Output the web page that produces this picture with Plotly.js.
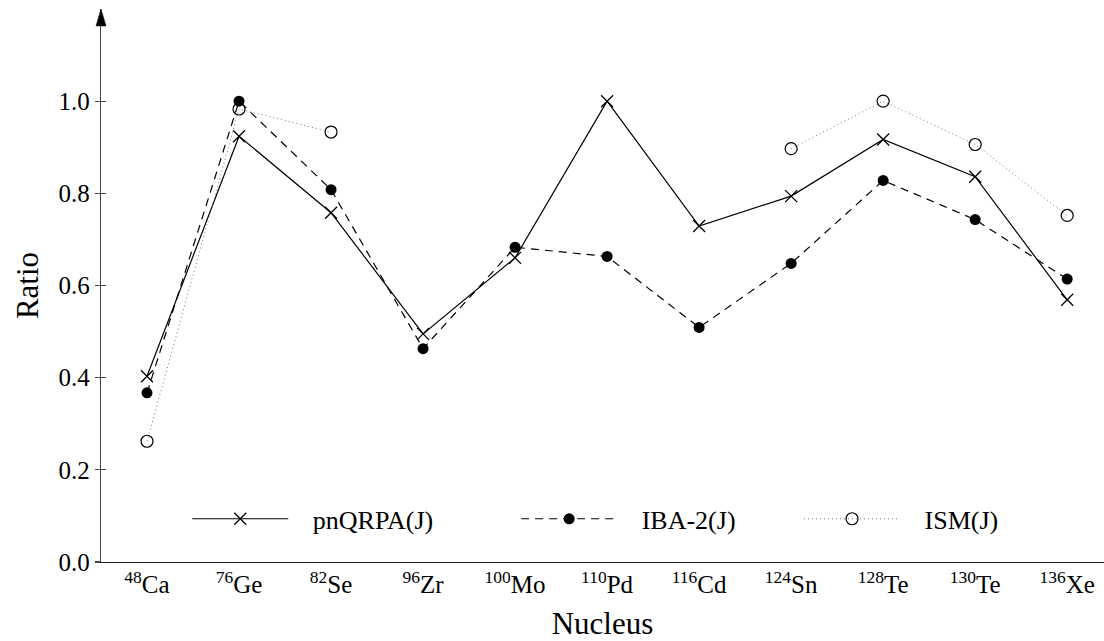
<!DOCTYPE html>
<html>
<head>
<meta charset="utf-8">
<script src="https://cdn.plot.ly/plotly-3.0.1.min.js"></script>
<style>
  html, body { margin: 0; padding: 0; background: #fff; }
  #chart { width: 1104px; height: 641px; }
</style>
</head>
<body>
<div id="chart"></div>
<script>
// Nuclei along the x axis
const nuclei = ['<sup>48</sup>Ca', '<sup>76</sup>Ge', '<sup>82</sup>Se', '<sup>96</sup>Zr', '<sup>100</sup>Mo',
                '<sup>110</sup>Pd', '<sup>116</sup>Cd', '<sup>124</sup>Sn', '<sup>128</sup>Te', '<sup>130</sup>Te',
                '<sup>136</sup>Xe'];
const nucleusIndex = [0, 1, 2, 3, 4, 5, 6, 7, 8, 9, 10];

// Ratios for each model (null = no value)
const pnqrpa = [0.403, 0.924, 0.758, 0.495, 0.660, 1.000, 0.729, 0.794, 0.917, 0.836, 0.569];
const iba2   = [0.367, 1.000, 0.808, 0.463, 0.683, 0.663, 0.509, 0.648, 0.828, 0.743, 0.614];
const ism    = [0.262, 0.983, 0.933, null, null, null, null, 0.897, 1.000, 0.906, 0.752];

const yTicks = [0, 0.2, 0.4, 0.6, 0.8, 1.0];

const serif = 'Liberation Serif, DejaVu Serif, serif';
// non-breaking spaces used to space the legend entries
const sp = n => '\u00a0'.repeat(n);

const traces = [
  {
    x: nucleusIndex, y: pnqrpa, name: sp(3) + 'pnQRPA(J)' + sp(12), mode: 'lines+markers',
    line: {color: '#000', width: 1.2},
    marker: {symbol: 'x-thin-open', size: 12, color: '#000', line: {color: '#000', width: 1.3}}
  },
  {
    x: nucleusIndex, y: iba2, name: sp(3) + 'IBA-2(J)' + sp(9), mode: 'lines+markers',
    line: {color: '#000', width: 1.2, dash: '8px,6px'},
    marker: {symbol: 'circle', size: 11, color: '#000'}
  },
  {
    x: nucleusIndex, y: ism, name: sp(3) + 'ISM(J)', mode: 'lines+markers', yaxis: 'y2',
    connectgaps: false,
    line: {color: '#777', width: 1, dash: '1px,3px'},
    marker: {symbol: 'circle-open', size: 12, color: '#000', line: {color: '#000', width: 1.2}}
  }
];

const layout = {
  width: 1104, height: 641,
  margin: {l: 101, r: 0, t: 9, b: 79},
  paper_bgcolor: '#fff', plot_bgcolor: '#fff',
  font: {family: serif, size: 25, color: '#000'},
  showlegend: true,
  legend: {
    orientation: 'h', x: 0.086, y: 0.078, xanchor: 'left', yanchor: 'middle',
    bgcolor: 'rgba(0,0,0,0)', font: {family: serif, size: 26, color: '#000'},
    itemwidth: 96, traceorder: 'normal'
  },
  xaxis: {
    range: [-0.5, 10.4], tickvals: nucleusIndex, ticktext: nuclei,
    showline: true, linecolor: '#222', linewidth: 1.3, ticks: '',
    showgrid: false, zeroline: false, fixedrange: true,
    tickfont: {family: serif, size: 25, color: '#000'},
    title: {text: 'Nucleus', font: {family: serif, size: 31, color: '#000'}, standoff: 16}
  },
  yaxis: {
    range: [0, 1.2], tickvals: yTicks, tickformat: '.1f',
    showline: true, linecolor: '#444', linewidth: 1.3,
    ticks: 'outside', ticklen: 5, tickwidth: 1.2, tickcolor: '#444',
    showgrid: false, zeroline: false, fixedrange: true,
    tickfont: {family: serif, size: 25, color: '#000'},
    title: {text: 'Ratio', font: {family: serif, size: 31, color: '#000'}, standoff: 10}
  },
  yaxis2: {
    overlaying: 'y', side: 'left', range: [0, 1.2], tickvals: yTicks,
    ticks: 'inside', ticklen: 5, tickwidth: 1.2, tickcolor: '#444',
    showticklabels: false, showline: false, showgrid: false, zeroline: false, fixedrange: true
  },
  shapes: [
    {
      // arrow head at the top of the y axis
      type: 'path', xref: 'paper', yref: 'paper',
      xsizemode: 'pixel', ysizemode: 'pixel', xanchor: 0, yanchor: 1,
      path: 'M-5,-17L5,-17L0,0Z',
      fillcolor: '#000', line: {color: '#000', width: 0.5}
    }
  ]
};

Plotly.newPlot('chart', traces, layout, {displayModeBar: false, staticPlot: true});
</script>
</body>
</html>
